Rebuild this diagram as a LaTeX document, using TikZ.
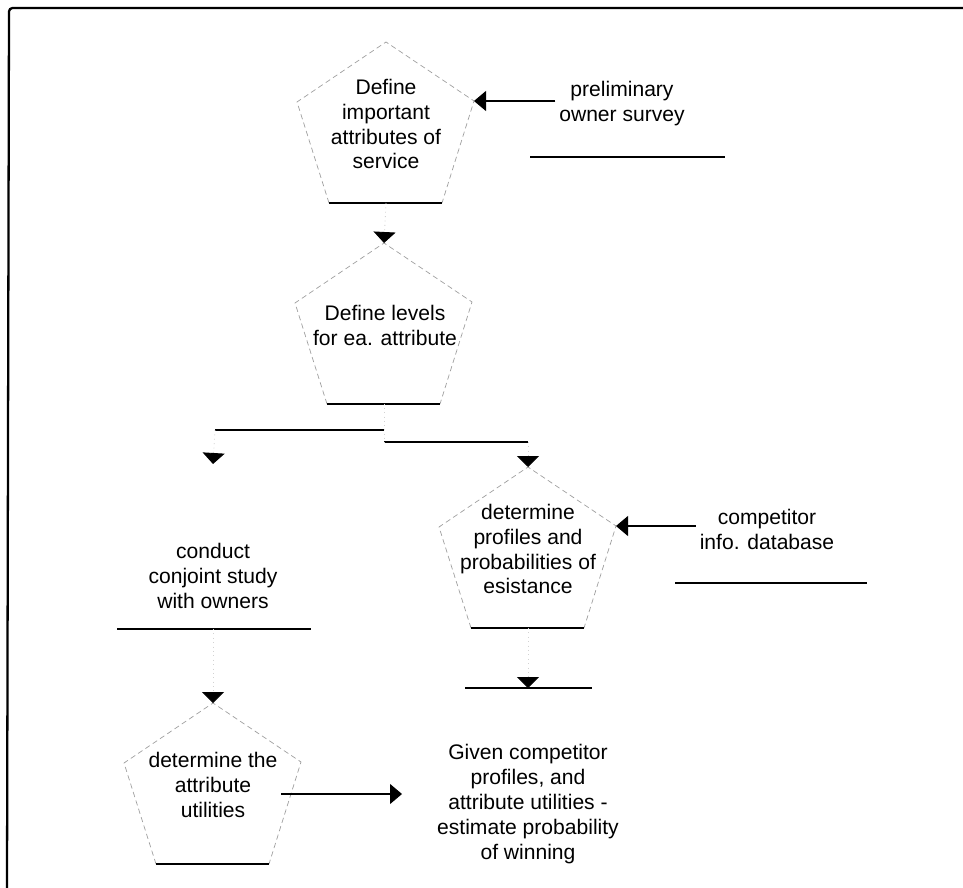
\documentclass[tikz,border=0pt]{standalone}
\usepackage{fontspec}
\setmainfont{Liberation Sans}
\usepackage{tikz}
\usetikzlibrary{arrows.meta}

% pentagon around a step: name, x and y of the apex
\newcommand{\pentshape}[4][]{%
  \begin{scope}[shift={(#3,#4)}]
    \coordinate (#2-top) at (0,0);
    \coordinate (#2-l) at (-89,60);
    \coordinate (#2-r) at (88,59);
    \coordinate (#2-bl) at (-57,161);
    \coordinate (#2-br) at (56,161);
    \coordinate (#2-bot) at (0,161);
  \end{scope}
  \draw[pentside,#1] (#2-bl) -- (#2-l) -- (#2-top) -- (#2-r) -- (#2-br);
  \draw[pentbase] (#2-bl) -- (#2-br);
}

\tikzset{
  pentside/.style={gray!75,densely dashed,line width=0.4pt},
  pentbase/.style={black,line width=0.7pt},
  steptext/.style={align=center,inner sep=2pt,font=\fontsize{12}{14.2}\selectfont},
  feed/.style={line width=0.6pt,-{Triangle[length=2.4mm,width=4mm]}},
  down/.style={gray!35,dotted,line width=0.5pt,-{Triangle[length=2.2mm,width=4.4mm,color=black]}},
  frame/.style={line width=1.3pt,rounded corners=2pt}
}

\begin{document}
\begin{tikzpicture}[x=0.02cm,y=-0.02cm]
\useasboundingbox (0,0) rectangle (963,888);
\draw[frame] (963,8) -- (9,8) -- (7,888);

% steps
\pentshape{attr}{386}{42}
\node[steptext] (attr) at (386,124) {Define\\important\\attributes of\\service};
\pentshape{levels}{384}{243}
\node[steptext] (levels) at (385,325) {Define levels\\for ea. attribute};
\coordinate (conduct-top) at (213,464);
\coordinate (conduct-bot) at (213,629);
\node[steptext] (conduct) at (213,576) {conduct\\conjoint study\\with owners};
\draw[pentbase] (117,629) -- (311,629);
\pentshape{profiles}{528}{467}
\node[steptext] (profiles) at (528,549) {determine\\profiles and\\probabilities of\\esistance};
\pentshape{utils}{213}{703}
\node[steptext] (utils) at (213,785) {determine the\\attribute\\utilities};
\node[steptext] (given) at (528,804) {Given competitor\\profiles, and\\attribute utilities -\\estimate probability\\of winning};
\coordinate (given-top) at (528,688);
\coordinate (given-in) at (402,794);
\draw[pentbase] (465,688) -- (592,688);

% sources
\node[steptext] (prelim) at (622,104) {preliminary\\owner survey};
\draw[pentbase] (530,157) -- (725,157);
\node[steptext] (compet) at (767,529) {competitor\\info. database};
\draw[pentbase] (675,583) -- (867,583);

% split below the levels
\coordinate (split) at (384,430);
\coordinate (split2) at (384,442);
\draw[pentbase] (split) -- (215,430);
\draw[pentbase] (split2) -- (528,442);

% connectors
\draw[feed] (prelim.west |- attr-r) -- (attr-r);
\draw[feed] (compet.west |- profiles-r) -- (profiles-r);
\draw[down] (attr-bot) -- (levels-top);
\draw[gray!35,dotted] (levels-bot) -- (split) -- (split2);
\draw[down] (215,430) -- (conduct-top);
\draw[down] (528,442) -- (profiles-top);
\draw[down] (conduct-bot) -- (utils-top);
\draw[down] (profiles-bot) -- (given-top);
\draw[feed] (utils.east |- given-in) -- (given-in);
\end{tikzpicture}
\end{document}
